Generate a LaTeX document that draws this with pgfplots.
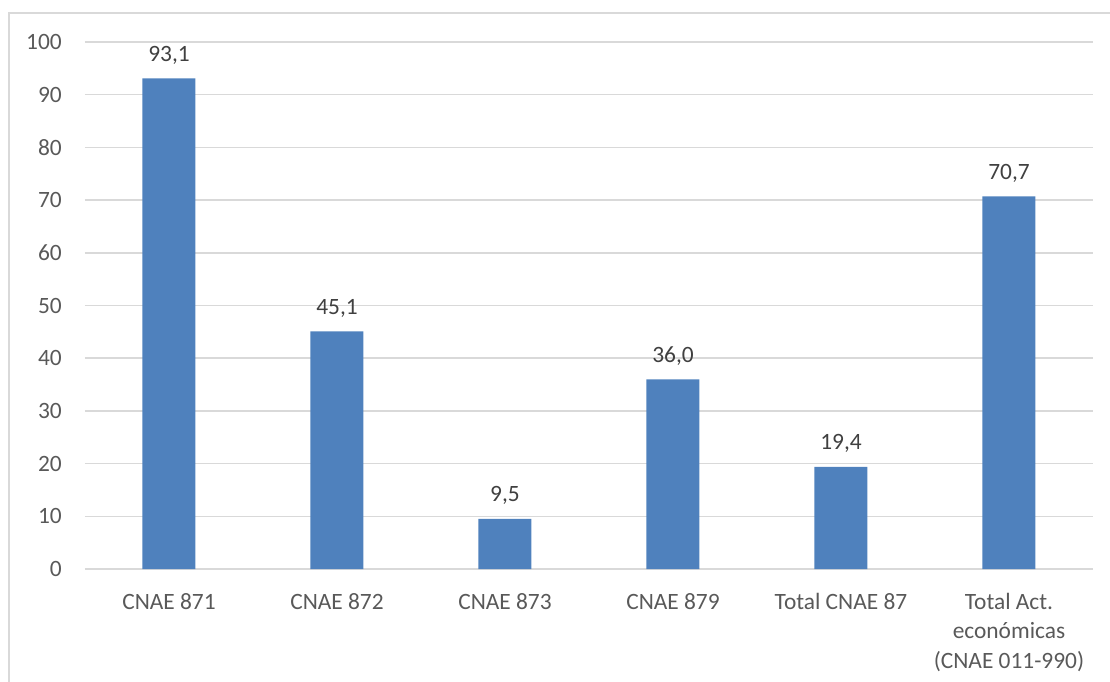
\documentclass[border=0pt]{standalone}
\usepackage{pgfplots}
\pgfplotsset{compat=1.18}
\usepackage{fontspec}
\setmainfont{Carlito}

\definecolor{barblue}{HTML}{4F81BD}
\definecolor{gridgray}{HTML}{D9D9D9}
\definecolor{ticktext}{HTML}{595959}
\definecolor{labeltext}{HTML}{404040}

\begin{document}
\begin{tikzpicture}
    % frame of the chart area (only left and top edges are visible)
    \useasboundingbox (-85bp,-113bp) rectangle (1025bp,569bp);
    \draw[gridgray, line width=1.5bp] (-76bp,-113bp) -- (-76bp,556bp) -- (1025bp,556bp);

    \begin{axis}[
        at={(0,0)}, anchor=south west,
        scale only axis,
        width=1008bp, height=527bp,
        xmin=-0.5, xmax=5.5,
        ymin=0, ymax=100,
        ytick={0,10,...,100},
        xtick=data,
        xticklabels={CNAE 871, CNAE 872, CNAE 873, CNAE 879, Total CNAE 87,
            {Total Act.\\económicas\\(CNAE 011-990)}},
        axis line style={draw=none},
        major tick length=0pt,
        ymajorgrids,
        grid style={gridgray, line width=1.5bp},
        font=\fontsize{23.4bp}{29.5bp}\selectfont,
        /pgf/number format/assume math mode=true,
        yticklabel style={anchor=east, inner sep=0pt, xshift=-23bp, text=ticktext},
        xticklabel style={anchor=north, inner sep=0pt, yshift=-24bp, align=center, text=ticktext},
        ybar,
        bar width=53bp,
        nodes near coords,
        nodes near coords style={anchor=base, inner sep=0pt, yshift=17bp, text=labeltext,
            /pgf/number format/.cd, fixed, fixed zerofill, precision=1, use comma},
    ]
    \addplot[fill=barblue, draw=none] coordinates {
        (0, 93.1)
        (1, 45.1)
        (2, 9.5)
        (3, 36.0)
        (4, 19.4)
        (5, 70.7)
    };
    \end{axis}
\end{tikzpicture}
\end{document}
